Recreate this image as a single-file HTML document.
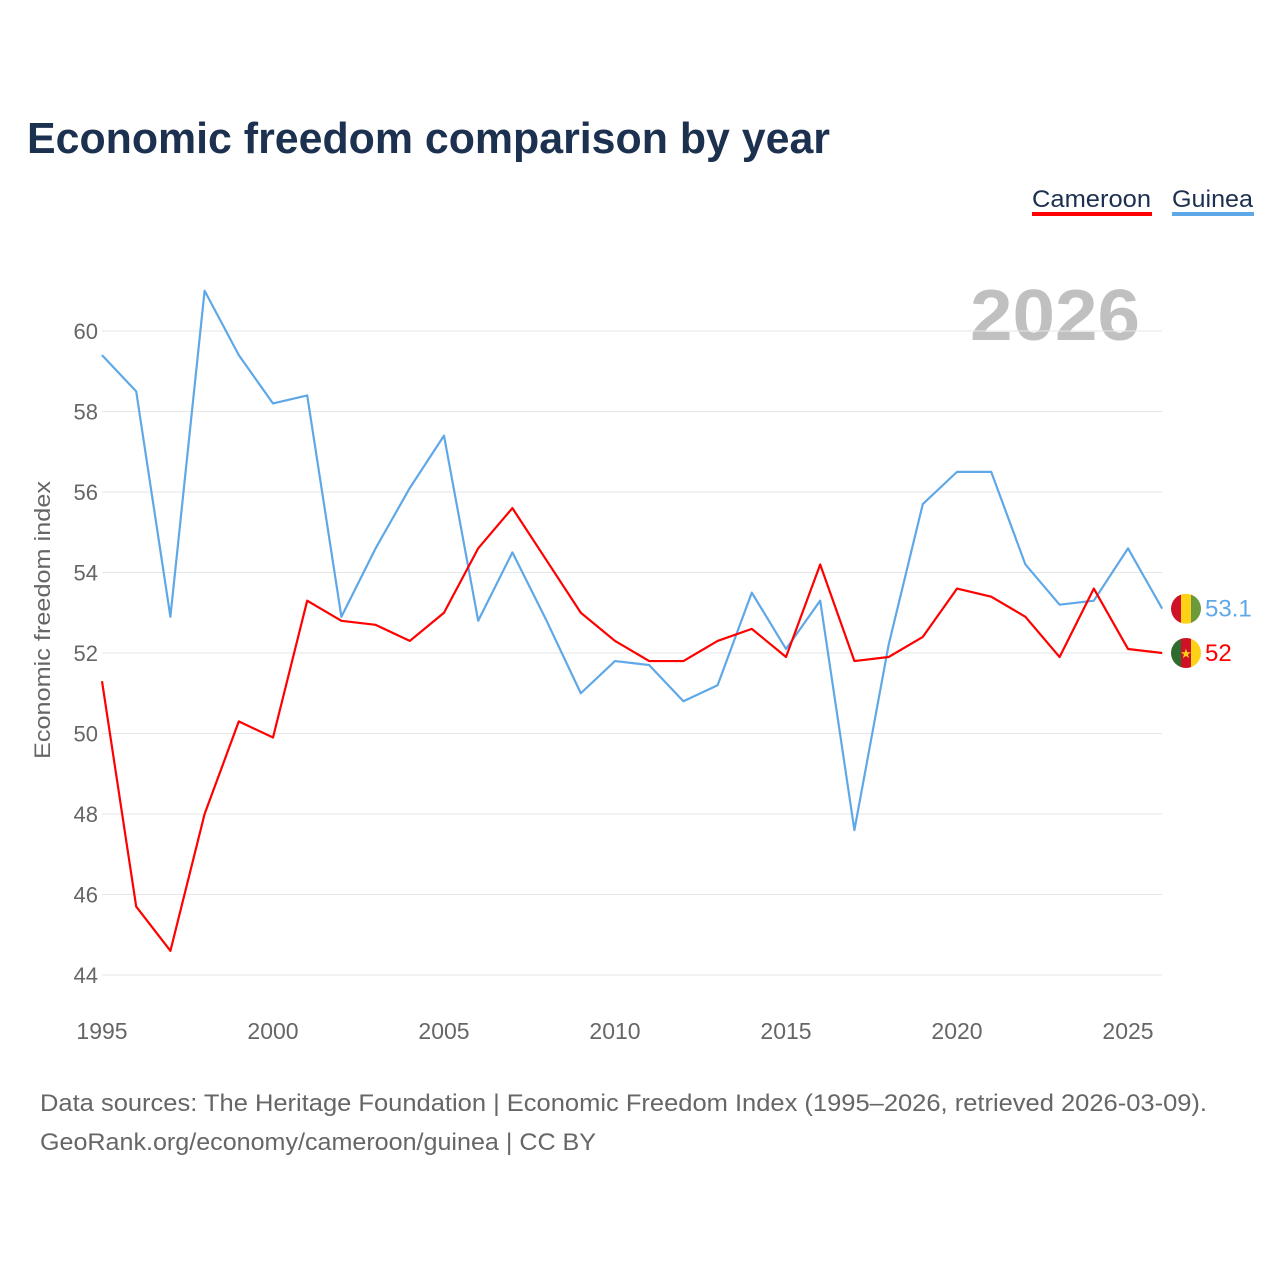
<!DOCTYPE html>
<html><head><meta charset="utf-8"><style>
body{margin:0;background:#fff;font-family:"Liberation Sans",sans-serif}
#wrap{position:relative;width:1280px;height:1280px}
</style></head><body>
<div id="wrap">
<svg id="chart" width="1280" height="1280" xmlns="http://www.w3.org/2000/svg">
<text x="27" y="153" font-size="44" font-weight="bold" fill="#1c3050" textLength="803" lengthAdjust="spacingAndGlyphs">Economic freedom comparison by year</text>
<g><text x="1032" y="207" font-size="24" fill="#1c3050" textLength="119" lengthAdjust="spacingAndGlyphs">Cameroon</text><rect x="1032" y="212" width="120" height="4" fill="#ff0000"/></g>
<g><text x="1172" y="207" font-size="24" fill="#1c3050" textLength="81" lengthAdjust="spacingAndGlyphs">Guinea</text><rect x="1172" y="212" width="82" height="4" fill="#5fa8e8"/></g>
<text x="1140" y="340" font-size="72" font-weight="bold" fill="#c0c0c0" text-anchor="end" textLength="170" lengthAdjust="spacingAndGlyphs">2026</text>
<g id="grid"></g><g id="yticks"></g><g id="xticks"></g><g id="lines"></g>
<text transform="translate(50,620) rotate(-90)" font-size="22" fill="#666" text-anchor="middle" textLength="278" lengthAdjust="spacingAndGlyphs">Economic freedom index</text>
<text x="40" y="1111" font-size="24" fill="#666" textLength="1167" lengthAdjust="spacingAndGlyphs">Data sources: The Heritage Foundation | Economic Freedom Index (1995–2026, retrieved 2026-03-09).</text>
<text x="40" y="1150" font-size="24" fill="#666" textLength="556" lengthAdjust="spacingAndGlyphs">GeoRank.org/economy/cameroon/guinea | CC BY</text>
</svg></div>
<script>
const years=[1995,1996,1997,1998,1999,2000,2001,2002,2003,2004,2005,2006,2007,2008,2009,2010,2011,2012,2013,2014,2015,2016,2017,2018,2019,2020,2021,2022,2023,2024,2025,2026];
const guinea=[59.4,58.5,52.9,61.0,59.4,58.2,58.4,52.9,54.6,56.1,57.4,52.8,54.5,52.8,51.0,51.8,51.7,50.8,51.2,53.5,52.1,53.3,47.6,52.2,55.7,56.5,56.5,54.2,53.2,53.3,54.6,53.1];
const cameroon=[51.3,45.7,44.6,48.0,50.3,49.9,53.3,52.8,52.7,52.3,53.0,54.6,55.6,54.3,53.0,52.3,51.8,51.8,52.3,52.6,51.9,54.2,51.8,51.9,52.4,53.6,53.4,52.9,51.9,53.6,52.1,52.0];
const yTicks=[44,46,48,50,52,54,56,58,60];
const xTicks=[1995,2000,2005,2010,2015,2020,2025];
const NS="http://www.w3.org/2000/svg";
const x=v=>102+(v-1995)*(1128-102)/30;
const y=v=>975-(v-44)*(975-331)/16;
function mk(t,a,p){const e=document.createElementNS(NS,t);for(const k in a)e.setAttribute(k,a[k]);p.appendChild(e);return e;}
const grid=document.getElementById('grid'),yt=document.getElementById('yticks'),xt=document.getElementById('xticks'),ln=document.getElementById('lines');
yTicks.forEach(v=>{
 const l=mk('line',{x1:102,x2:1162,y1:y(v),y2:y(v),stroke:'#e6e6e6','stroke-width':1},grid);
 
 
 const t=mk('text',{x:98,y:y(v)+8,'font-size':22,fill:'#666','text-anchor':'end'},yt);t.textContent=v;
 
 
});
xTicks.forEach(v=>{
 const t=mk('text',{x:x(v),y:1039,'font-size':23,fill:'#666','text-anchor':'middle'},xt);t.textContent=v;
 
 
});
function series(d,c,n){
 const p=mk('polyline',{points:d.map((v,i)=>x(years[i])+','+y(v)).join(' '),fill:'none',stroke:c,'stroke-width':2.2,'stroke-linejoin':'round'},ln);
 
 
}
series(guinea,'#5fa8e8','guinea');
series(cameroon,'#ff0000','cameroon');
function flag(cx,cy,cols,n,star){
 const g=mk('g',{},ln);
 
 
 const id='c'+n;const cp=mk('clipPath',{id:id},g);mk('circle',{cx:cx,cy:cy,r:15},cp);
 cols.forEach((c,i)=>mk('rect',{x:cx-15+i*10,y:cy-15,width:10.5,height:30,fill:c,'clip-path':'url(#'+id+')'},g));
 if(star){const s=mk('text',{x:cx,y:cy+5,'font-size':13,fill:'#fcd116','text-anchor':'middle'},g);s.textContent='★';}
}
const lg=guinea[guinea.length-1],lc=cameroon[cameroon.length-1];
flag(1186,y(lg),['#ce1126','#fcd116','#6a9a3a'],'guinea',false);
flag(1186,y(lc),['#2e6b2e','#ce1126','#fcd116'],'cameroon',true);
let t=mk('text',{x:1205,y:y(lg)+8,'font-size':24,fill:'#5fa8e8'},ln);t.textContent=lg;


t=mk('text',{x:1205,y:y(lc)+8,'font-size':24,fill:'#ff0000'},ln);t.textContent=lc;


</script></body></html>
